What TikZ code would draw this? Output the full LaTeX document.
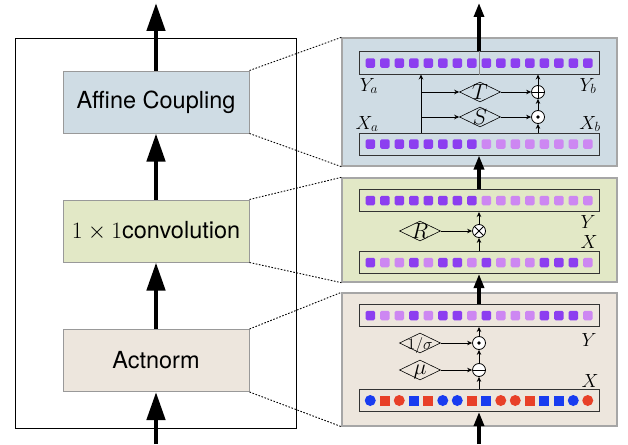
\RequirePackage{fix-cm}
\documentclass[tikz,border=0pt]{standalone}
\usepackage{fontspec}
\setsansfont{TeX Gyre Heros}
\usepackage{tikz}
\usetikzlibrary{arrows.meta,calc,shapes.geometric}
\definecolor{acblue}{RGB}{207,220,228}
\definecolor{cvgreen}{RGB}{226,232,198}
\definecolor{anbeige}{RGB}{237,230,221}
\definecolor{purD}{RGB}{140,62,240}
\definecolor{purL}{RGB}{205,135,242}
\definecolor{dotblue}{RGB}{25,60,240}
\definecolor{dotred}{RGB}{232,64,40}
\newcommand{\dlab}[1]{\smash{\makebox[0pt]{\raisebox{-0.5\height}{$#1$}}}}
\newcommand{\cells}[2]{\foreach \c [count=\i] in {#2} {\node[cell\c, xshift={(\i-8.5)*14.5pt}] at (#1) {};}}
\tikzset{
  block/.style={draw=black!40, line width=1pt, minimum width=186pt, minimum height=62pt, inner sep=0pt, font=\sffamily\fontsize{23.5}{26}\selectfont},
  panel/.style={draw=black!35, line width=1.3pt, minimum width=275pt, inner sep=0pt},
  strip/.style={draw=black!80, line width=1pt, minimum width=240pt, minimum height=22pt, inner sep=0pt},
  cellD/.style={fill=purD, rounded corners=1.5pt, minimum size=9.5pt, inner sep=0pt},
  cellL/.style={fill=purL, rounded corners=1.5pt, minimum size=9.5pt, inner sep=0pt},
  cellcb/.style={circle, fill=dotblue, minimum size=11pt, inner sep=0pt},
  cellcr/.style={circle, fill=dotred, minimum size=11pt, inner sep=0pt},
  cellsb/.style={fill=dotblue, minimum size=10pt, inner sep=0pt},
  cellsr/.style={fill=dotred, minimum size=10pt, inner sep=0pt},
  dia/.style={diamond, draw, line width=0.6pt, minimum width=41pt, minimum height=20pt, inner sep=0pt, font=\fontsize{22}{24}\selectfont},
  mlab/.style={inner sep=0pt, font=\fontsize{19}{21}\selectfont},
  op/.style={circle, draw, fill=white, minimum size=13pt, inner sep=0pt, line width=0.8pt},
  opplus/.style={op, path picture={\draw[line width=0.8pt] (path picture bounding box.north) -- (path picture bounding box.south) (path picture bounding box.west) -- (path picture bounding box.east);}},
  opminus/.style={op, path picture={\draw[line width=0.8pt] (path picture bounding box.west) -- (path picture bounding box.east);}},
  optimes/.style={op, path picture={\draw[line width=0.8pt] (path picture bounding box.north west) -- (path picture bounding box.south east) (path picture bounding box.south west) -- (path picture bounding box.north east);}},
  opdot/.style={op, path picture={\fill[black] (path picture bounding box.center) circle (1.8pt);}},
  thinarr/.style={-{Stealth[length=5pt,width=4.5pt]}, line width=0.8pt},
  bigarr/.style={-{Triangle[length=28pt,width=18pt]}, line width=4.5pt},
  midarr/.style={-{Triangle[length=14pt,width=10pt]}, line width=3.2pt},
  dotlink/.style={black, dash pattern=on 1.6pt off 1.6pt, line width=0.9pt},
  every picture/.style={line cap=butt, line join=miter}
}

\begin{document}
\begin{tikzpicture}[x=1pt, y=-1pt]
  \useasboundingbox (0,0) rectangle (628,444);

  % Left: flow step
  \node[draw, line width=0.9pt, minimum width=281pt, minimum height=390pt, inner sep=0pt] (outer) at (155.5,233) {};
  \node[block, fill=acblue] (acBox) at (156,102) {Affine Coupling};
  \node[block, fill=cvgreen] (cvBox) at (156,231) {$1\times1$convolution};
  \node[block, fill=anbeige] (anBox) at (156,360.5) {Actnorm};
  \coordinate (lTop) at (156,3);
  \coordinate (lBot) at (156,444);
  \draw[bigarr] (lBot) -- (anBox.south);
  \draw[bigarr] (anBox.north) -- (cvBox.south);
  \draw[bigarr] (cvBox.north) -- (acBox.south);
  \draw[bigarr] (acBox.north) -- (lTop);

  % Right: panels
  \node[panel, fill=acblue, minimum height=128pt] (afP) at (479.5,102) {};
  \node[panel, fill=cvgreen, minimum height=104pt] (cvP) at (479.5,230) {};
  \node[panel, fill=anbeige, minimum height=133pt] (anP) at (479.5,359.5) {};

  % zoom links
  \draw[dotlink] (acBox.north east) -- (afP.north west);
  \draw[dotlink] (acBox.south east) -- (afP.south west);
  \draw[dotlink] (cvBox.north east) -- (cvP.north west);
  \draw[dotlink] (cvBox.south east) -- (cvP.south west);
  \draw[dotlink] (anBox.north east) -- (anP.north west);
  \draw[dotlink] (anBox.south east) -- (anP.south west);

  % Affine coupling
  \node[strip] (afY) at (479,63) {};
  \node[strip] (afX) at (479,144) {};
  \draw[black!45, line width=0.6pt] (afY.north) -- (afY.south);
  \cells{afY}{D,D,D,D,D,D,D,D,D,D,D,D,D,D,D,D}
  \cells{afX}{D,D,D,D,D,D,D,D,L,L,L,L,L,L,L,L}
  \node[mlab] (afYa) at (369,86) {$Y_a$};
  \node[mlab] (afYb) at (588,86) {$Y_b$};
  \node[mlab] (afXa) at (367,124) {$X_a$};
  \node[mlab] (afXb) at (590,124) {$X_b$};
  \node[dia] (T) at (480,92) {\dlab{T}};
  \node[dia] (S) at (480,117) {\dlab{S}};
  \node[opplus] (afPlus) at (538,92) {};
  \node[opdot] (afDot) at (538,117) {};
  \coordinate (br) at (421,0);
  \draw[thinarr] (afX.north -| br) -- (afY.south -| br);
  \draw[thinarr] (T.west -| br) -- (T);
  \draw[thinarr] (S.west -| br) -- (S);
  \draw[thinarr] (T) -- (afPlus);
  \draw[thinarr] (S) -- (afDot);
  \draw[thinarr] (afX.north -| afDot) -- (afDot);
  \draw[thinarr] (afDot) -- (afPlus);
  \draw[thinarr] (afPlus) -- (afY.south -| afPlus);

  % 1x1 convolution
  \node[strip] (cvY) at (479,200.5) {};
  \node[strip] (cvX) at (479,262.5) {};
  \cells{cvY}{D,D,D,D,D,D,D,D,L,L,L,L,L,L,L,L}
  \cells{cvX}{D,L,L,D,L,D,D,L,D,L,L,L,D,D,D,L}
  \node[mlab] (cvYl) at (588,222) {$Y$};
  \node[mlab] (cvXl) at (589,242) {$X$};
  \node[dia] (R) at (420,231) {\dlab{R}};
  \node[optimes] (cvOp) at (479,231) {};
  \draw[thinarr] (cvX.north) -- (cvOp);
  \draw[thinarr] (cvOp) -- (cvY.south);
  \draw[thinarr] (R) -- (cvOp);

  % Actnorm
  \node[strip] (anY) at (479,315.5) {};
  \node[strip] (anX) at (479,400.5) {};
  \cells{anY}{D,L,L,D,L,D,D,L,D,L,L,L,D,D,D,L}
  \cells{anX}{cb,sr,cr,sb,sr,cb,cb,sr,sb,cr,cr,sr,sb,sb,cb,cr}
  \node[mlab] (anYl) at (589,340) {$Y$};
  \node[mlab] (anXl) at (590,381) {$X$};
  \node[dia, font=\fontsize{16}{18}\selectfont] (sig) at (420,343) {\dlab{1/\sigma}};
  \node[dia] (mu) at (420,370) {\dlab{\mu}};
  \node[opdot] (anDot) at (479,343) {};
  \node[opminus] (anMin) at (479,370) {};
  \draw[thinarr] (anX.north) -- (anMin);
  \draw[thinarr] (anMin) -- (anDot);
  \draw[thinarr] (anDot) -- (anY.south);
  \draw[thinarr] (mu) -- (anMin);
  \draw[thinarr] (sig) -- (anDot);

  % main flow on the right
  \coordinate (rTop) at (479,3);
  \coordinate (rBot) at (479,444);
  \draw[midarr] (rBot) -- (anX.south);
  \draw[midarr] (anY.north) -- (cvX.south);
  \draw[midarr] (cvY.north) -- (afX.south);
  \draw[midarr] (afY.north) -- (rTop);
\end{tikzpicture}
\end{document}
